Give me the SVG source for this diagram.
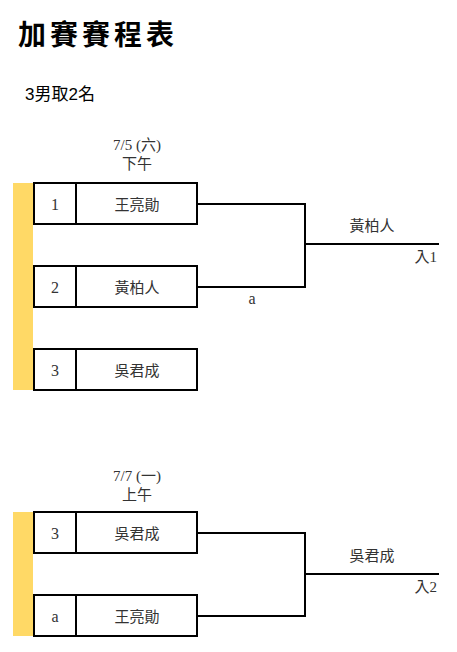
<svg xmlns="http://www.w3.org/2000/svg" width="457" height="652" viewBox="0 0 457 652">
<style>
.box{fill:#fff;stroke:#000;stroke-width:2}
.bar{fill:#FFD966}
.ln{fill:none;stroke:#000;stroke-width:2}
.t{font-family:"Liberation Serif","Noto Sans CJK TC",serif;font-size:15px;fill:#333;text-anchor:middle}
.n{font-family:"Liberation Serif","Noto Sans CJK TC",serif;font-size:16px;fill:#333;text-anchor:middle}
.s{font-family:"Liberation Serif","Noto Sans CJK TC",serif;font-size:15px;fill:#333;text-anchor:middle}
</style>
<rect width="457" height="652" fill="#fff"/>
<text x="18" y="45" font-family="'Noto Sans CJK TC',sans-serif" font-weight="bold" font-size="28" letter-spacing="4" fill="#000">加賽賽程表</text>
<text x="25" y="100" font-family="'Liberation Sans','Noto Sans CJK TC',sans-serif" font-size="17" fill="#000">3男取2名</text>

<g id="date1">
<text class="s" x="137" y="150">7/5 (六)</text>
<text class="s" x="137" y="169">下午</text>
</g>
<rect class="bar" x="13" y="183" width="20" height="207"/>
<g id="n1"><rect class="box" x="34" y="183" width="163" height="41"/><line class="ln" x1="76" y1="183" x2="76" y2="224"/><text class="n" x="55" y="210">1</text><text class="t" x="137" y="210">王亮勛</text></g>
<g id="n2"><rect class="box" x="34" y="266" width="163" height="41"/><line class="ln" x1="76" y1="266" x2="76" y2="307"/><text class="n" x="55" y="293">2</text><text class="t" x="137" y="293">黃柏人</text></g>
<g id="n3"><rect class="box" x="34" y="349" width="163" height="41"/><line class="ln" x1="76" y1="349" x2="76" y2="390"/><text class="n" x="55" y="376">3</text><text class="t" x="137" y="376">吳君成</text></g>

<g id="date2">
<text class="s" x="137" y="481">7/7 (一)</text>
<text class="s" x="137" y="500">上午</text>
</g>
<rect class="bar" x="13" y="512" width="20" height="124"/>
<g id="n4"><rect class="box" x="34" y="512" width="163" height="41"/><line class="ln" x1="76" y1="512" x2="76" y2="553"/><text class="n" x="55" y="539">3</text><text class="t" x="137" y="539">吳君成</text></g>
<g id="n5"><rect class="box" x="34" y="595" width="163" height="41"/><line class="ln" x1="76" y1="595" x2="76" y2="636"/><text class="n" x="55" y="622">a</text><text class="t" x="137" y="622">王亮勛</text></g>

<g id="connectors">
<polyline class="ln" points="197,204 305,204 305,287 197,287"/>
<line class="ln" x1="305" y1="244" x2="439" y2="244"/>
<polyline class="ln" points="197,533 305,533 305,616 197,616"/>
<line class="ln" x1="305" y1="574" x2="439" y2="574"/>
</g>
<g id="labels">
<text class="t" x="372" y="231">黃柏人</text>
<text class="t" x="437" y="262" style="text-anchor:end">入1</text>
<text class="n" x="252" y="304">a</text>
<text class="t" x="372" y="561">吳君成</text>
<text class="t" x="437" y="592" style="text-anchor:end">入2</text>
</g>
</svg>
